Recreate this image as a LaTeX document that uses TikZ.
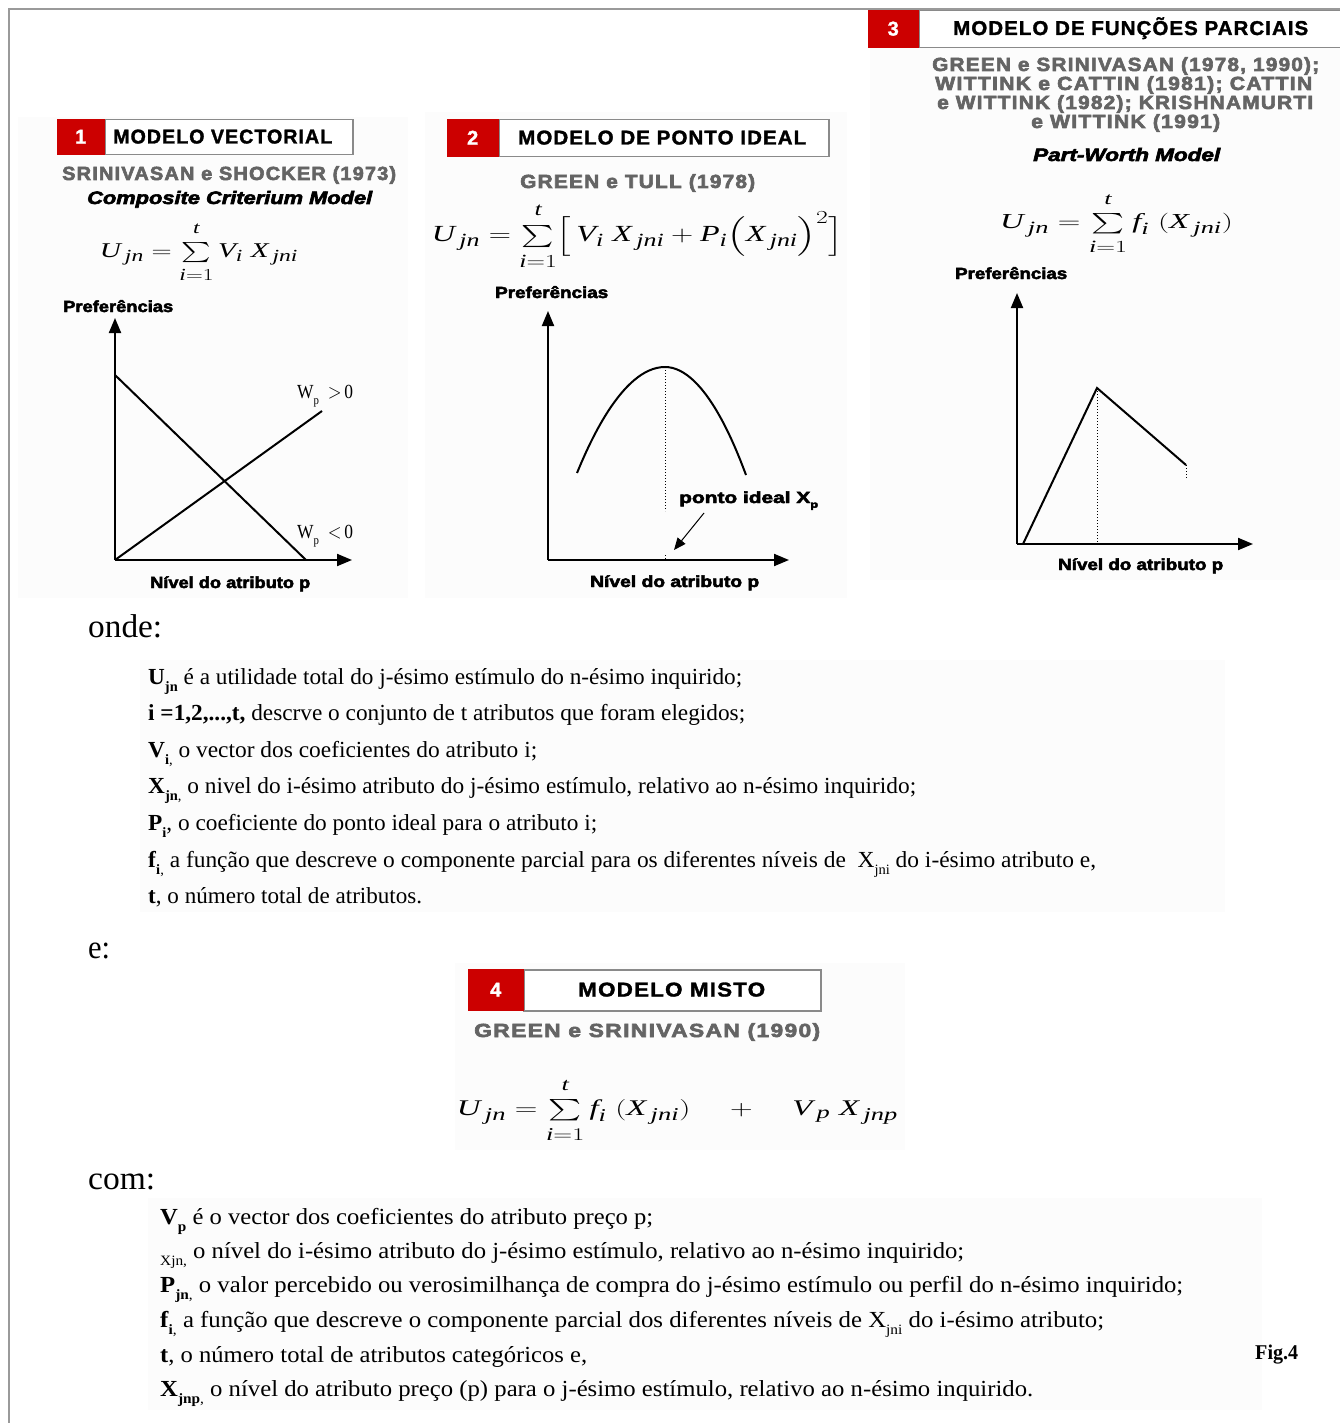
\documentclass[tikz,border=0pt]{standalone}
\usepackage{fontspec}
\usepackage{amsmath}
\usepackage{graphicx}
\usetikzlibrary{arrows.meta}
\setmainfont{Liberation Serif}
\newfontfamily\hvh{Liberation Sans}[UprightFont={* Bold}, ItalicFont={* Bold Italic}, FakeBold=1.5]
\newfontfamily\hvx{Liberation Sans}[UprightFont={* Bold}, ItalicFont={* Bold Italic}, FakeBold=3]
\definecolor{hdred}{HTML}{CC0000}
\definecolor{authgray}{HTML}{646464}
\definecolor{framegray}{HTML}{9A9A9A}
\definecolor{boxgray}{HTML}{8A8A8A}
\definecolor{panelbg}{HTML}{FCFCFC}
\DeclareMathSizes{26}{26}{21}{17}
\newcommand\fw[2]{\resizebox{#1}{\height}{#2}}
\newcommand\lowsub[1]{\raisebox{-0.3em}{\scalebox{0.62}{#1}}}
\newcommand\mi[1]{\textit{#1}}
\newcommand\eqbox[3]{\resizebox*{#1}{#2}{#3}}
\newcommand\usum{\sum\limits_{\mi{i}=1\rule{0pt}{19pt}}^{\mi{t}\rule[-8pt]{0pt}{0pt}}}
\tikzset{
  hdr/.style={anchor=base west, inner sep=0pt, font=\hvh\fontsize{20}{20}\selectfont\addfontfeatures{LetterSpace=5}},
  digit/.style={anchor=north west, inner sep=0pt, fill=hdred, draw=hdred, text=white, font=\hvh\fontsize{20}{20}\selectfont},
  hbox/.style={anchor=north west, inner sep=0pt, fill=white, draw=boxgray, line width=1.5pt},
  auth/.style={anchor=base west, inner sep=0pt, text=authgray, font=\hvx\fontsize{19}{19}\selectfont\addfontfeatures{LetterSpace=6}},
  heavy/.style={anchor=base west, inner sep=0pt, font=\hvx\fontsize{16}{16}\selectfont},
  heavyit/.style={anchor=base west, inner sep=0pt, font=\hvx\itshape\fontsize{18}{18}\selectfont},
  body/.style={anchor=base west, inner sep=0pt, font=\fontsize{23}{23}\selectfont},
  big/.style={anchor=base west, inner sep=0pt, font=\fontsize{33}{33}\selectfont},
  wlab/.style={anchor=base west, inner sep=0pt, font=\fontsize{20}{20}\selectfont},
  eqn/.style={inner sep=0pt, font=\fontsize{26}{26}\selectfont},
  axis/.style={line width=2pt, -{Triangle[length=15pt,width=12pt]}},
  curve/.style={line width=2pt},
  dots/.style={line width=1pt, dotted},
  pointer/.style={line width=1pt, -{Triangle[length=12pt,width=10pt]}},
}
\begin{document}
\begin{tikzpicture}[x=1pt,y=-1pt]
\useasboundingbox[fill=white] (0,0) rectangle (1340,1423);
% faint panels
\fill[panelbg] (18,117) rectangle (408,598);
\fill[panelbg] (425,112) rectangle (847,598);
\fill[panelbg] (870,48) rectangle (1340,580);
\fill[panelbg] (140,660) rectangle (1225,912);
\fill[panelbg] (455,963) rectangle (905,1150);
\fill[panelbg] (148,1198) rectangle (1262,1410);
% frame
\draw[framegray, line width=2pt] (9,1423) -- (9,9) -- (1340,9);

% ---------- Panel 1 ----------
\node[hbox, minimum width=248pt, minimum height=35pt] (h1) at (104,119) {};
\node[digit, minimum width=47pt, minimum height=35pt] (r1) at (57,119) {1};
\node[hdr] (t1) at (113,143.5) {\fw{219pt}{MODELO VECTORIAL}};
\node[auth] (a1) at (62,180) {\fw{334pt}{SRINIVASAN e SHOCKER (1973)}};
\node[heavyit] (m1) at (87,204) {\fw{285pt}{Composite Criterium Model}};
\node[eqn] (eq1) at (199,252.5) {\eqbox{198pt}{61pt}{$\mi{U}_{\,\mi{jn}} = \usum \mi{V}_{\mi{i}}\; \mi{X}_{\,\mi{jni}}$}};
\node[heavy] (p1) at (63,312) {\fw{110pt}{Preferências}};
\coordinate (o1) at (115,560);
\coordinate (y1) at (115,318);
\coordinate (x1) at (352,560);
\draw[axis] (o1) -- (y1);
\draw[axis] (o1) -- (x1);
\coordinate (d1s) at (115,375);
\coordinate (d1e) at (306,560);
\coordinate (u1e) at (322,411);
\draw[curve] (d1s) -- (d1e);
\draw[curve] (o1) -- (u1e);
\node[wlab] (wp1) at (297,398) {\fw{56pt}{W\lowsub{p}\ \ $>$\,0}};
\node[wlab] (wn1) at (297,538) {\fw{56pt}{W\lowsub{p}\ \ $<$\,0}};
\node[heavy] (n1) at (150,588) {\fw{160pt}{Nível do atributo p}};

% ---------- Panel 2 ----------
\node[hbox, minimum width=330pt, minimum height=37pt] (h2) at (498,119) {};
\node[digit, minimum width=51pt, minimum height=37pt] (r2) at (447,119) {2};
\node[hdr] (t2) at (518,144.5) {\fw{288pt}{MODELO DE PONTO IDEAL}};
\node[auth] (a2) at (520,188) {\fw{235pt}{GREEN e TULL (1978)}};
\node[eqn] (eq2) at (637.5,236.5) {\eqbox{411pt}{67pt}{$\mi{U}_{\,\mi{jn}} = \usum \Bigl[\, \mi{V}_{\mi{i}}\; \mi{X}_{\,\mi{jni}} + \mi{P}_{\mi{i}} \Bigl(\mi{X}_{\,\mi{jni}}\Bigr)^{2} \Bigr]$}};
\node[heavy] (p2) at (495,298) {\fw{113pt}{Preferências}};
\coordinate (o2) at (548,560);
\coordinate (y2) at (548,311);
\coordinate (x2) at (789,560);
\draw[axis] (o2) -- (y2);
\draw[axis] (o2) -- (x2);
\coordinate (pl) at (577,473);
\coordinate (pk) at (665,367);
\coordinate (pr) at (746,475);
\draw[curve] (pl) parabola bend (pk) (pr);
\coordinate (pd) at (665,511);
\coordinate (pb1) at (665,555);
\coordinate (pb2) at (665,560);
\draw[dots] (pk) -- (pd);
\draw[dots] (pb1) -- (pb2);
\node[heavy] (pi) at (679,503) {\fw{139pt}{ponto ideal X\lowsub{p}}};
\coordinate (ps) at (704,513);
\coordinate (pe) at (674,550);
\draw[pointer] (ps) -- (pe);
\node[heavy] (n2) at (590,587) {\fw{169pt}{Nível do atributo p}};

% ---------- Panel 3 ----------
\node[hbox, minimum width=430pt, minimum height=37pt] (h3) at (918,10) {};
\node[digit, minimum width=50pt, minimum height=37pt] (r3) at (868,10) {3};
\node[hdr] (t3) at (953,35) {\fw{355pt}{MODELO DE FUNÇÕES PARCIAIS}};
\node[auth] (a3a) at (932,71) {\fw{387pt}{GREEN e SRINIVASAN (1978, 1990);}};
\node[auth] (a3b) at (935,90) {\fw{377pt}{WITTINK e CATTIN (1981); CATTIN}};
\node[auth] (a3c) at (937,109) {\fw{376pt}{e WITTINK (1982); KRISHNAMURTI}};
\node[auth] (a3d) at (1031,128) {\fw{189pt}{e WITTINK (1991)}};
\node[heavyit] (m3) at (1033,161) {\fw{187pt}{Part-Worth Model}};
\node[eqn] (eq3) at (1116.5,224) {\eqbox{233pt}{62pt}{$\mi{U}_{\,\mi{jn}} = \usum \mi{f}_{\mi{i}}\;(\mi{X}_{\,\mi{jni}})$}};
\node[heavy] (p3) at (955,279) {\fw{112pt}{Preferências}};
\coordinate (o3) at (1017,544);
\coordinate (y3) at (1017,293);
\coordinate (x3) at (1253,544);
\draw[axis] (o3) -- (y3);
\draw[axis] (o3) -- (x3);
\coordinate (q0) at (1023,544);
\coordinate (q1) at (1097,388);
\coordinate (q2) at (1186,465);
\coordinate (q1b) at (1097,544);
\coordinate (q2b) at (1186,478);
\draw[curve, line join=miter] (q0) -- (q1) -- (q2);
\draw[dots] (q1) -- (q1b);
\draw[dots] (q2) -- (q2b);
\node[heavy] (n3) at (1058,570) {\fw{165pt}{Nível do atributo p}};

% ---------- onde ----------
\node[big] (onde) at (88,637) {\fw{74pt}{onde:}};
\node[body] (L1) at (148,684.5) {\fw{594pt}{\textbf{U}\lowsub{\textbf{jn}} é a utilidade total do j-ésimo estímulo do n-ésimo inquirido;}};
\node[body] (L2) at (148,720.5) {\fw{597pt}{\textbf{i =1,2,...,t,} descrve o conjunto de t atributos que foram elegidos;}};
\node[body] (L3) at (148,757.5) {\fw{389pt}{\textbf{V}\lowsub{\textbf{i},} o vector dos coeficientes do atributo i;}};
\node[body] (L4) at (148,793.5) {\fw{768pt}{\textbf{X}\lowsub{\textbf{jn},} o nivel do i-ésimo atributo do j-ésimo estímulo, relativo ao n-ésimo inquirido;}};
\node[body] (L5) at (148,830.5) {\fw{449pt}{\textbf{P}\lowsub{\textbf{i}}, o coeficiente do ponto ideal para o atributo i;}};
\node[body] (L6) at (148,867.5) {\fw{948pt}{\textbf{f}\lowsub{\textbf{i},} a função que descreve o componente parcial para os diferentes níveis de \ X\lowsub{jni} do i-ésimo atributo e,}};
\node[body] (L7) at (148,903.5) {\fw{274pt}{\textbf{t}, o número total de atributos.}};

% ---------- e: and Panel 4 ----------
\node[big] (e) at (88,958) {\fw{22pt}{e:}};
\node[hbox, minimum width=297pt, minimum height=41pt] (h4) at (523,969) {};
\node[digit, minimum width=55pt, minimum height=41pt] (r4) at (468,969) {4};
\node[hdr] (t4) at (578,996.5) {\fw{187pt}{MODELO MISTO}};
\node[auth] (a4) at (474,1037) {\fw{346pt}{GREEN e SRINIVASAN (1990)}};
\node[eqn] (eq4) at (677.5,1110.5) {\eqbox{441pt}{65pt}{$\mi{U}_{\,\mi{jn}} = \usum \mi{f}_{\mi{i}}\;(\mi{X}_{\,\mi{jni}}) \quad + \quad \mi{V}_{\,\mi{p}}\; \mi{X}_{\,\mi{jnp}}$}};

% ---------- com ----------
\node[big] (com) at (88,1189.5) {\fw{67pt}{com:}};
\node[body] (M1) at (160,1224.5) {\fw{493pt}{\textbf{V}\lowsub{\textbf{p}} é o vector dos coeficientes do atributo preço p;}};
\node[body] (M2) at (160,1258.5) {\fw{804pt}{\lowsub{Xjn,} o nível do i-ésimo atributo do j-ésimo estímulo, relativo ao n-ésimo inquirido;}};
\node[body] (M3) at (160,1292.5) {\fw{1023pt}{\textbf{P}\lowsub{\textbf{jn},} o valor percebido ou verosimilhança de compra do j-ésimo estímulo ou perfil do n-ésimo inquirido;}};
\node[body] (M4) at (160,1327.5) {\fw{944pt}{\textbf{f}\lowsub{\textbf{i},} a função que descreve o componente parcial dos diferentes níveis de X\lowsub{jni} do i-ésimo atributo;}};
\node[body] (M5) at (160,1362.5) {\fw{427pt}{\textbf{t}, o número total de atributos categóricos e,}};
\node[body] (M6) at (160,1396.5) {\fw{873pt}{\textbf{X}\lowsub{\textbf{jnp},} o nível do atributo preço (p) para o j-ésimo estímulo, relativo ao n-ésimo inquirido.}};
\node[body, font=\bfseries\fontsize{21}{21}\selectfont] (fig) at (1255,1359) {\fw{43pt}{Fig.4}};
\end{tikzpicture}
\end{document}
